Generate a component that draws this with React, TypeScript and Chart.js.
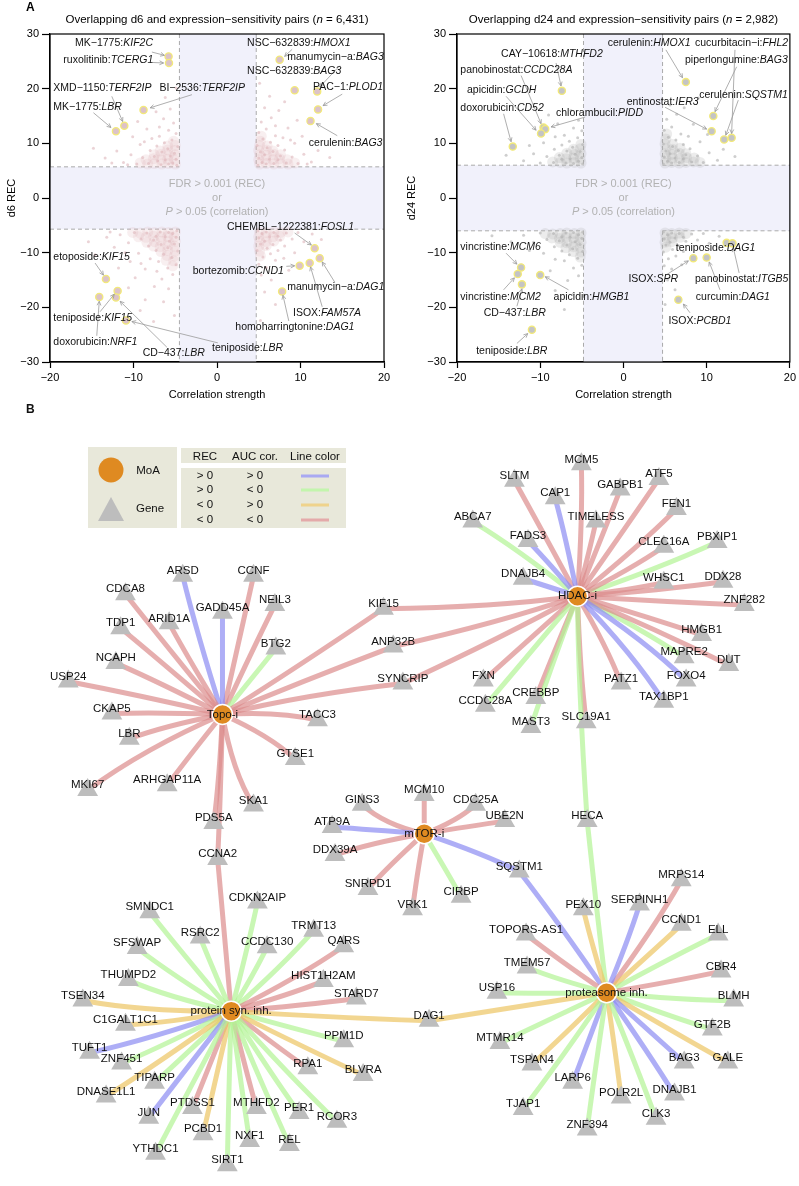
import React, { useEffect, useRef } from "react";
import { Chart, registerables } from "chart.js";
Chart.register(...registerables);

const FONT = "'Liberation Sans', Arial, Helvetica, sans-serif";
const MINUS = "\u2212";

// ---------------- Panel A: d6 ----------------
const d6Drug = ["MK\u22121775", "ruxolitinib", "XMD\u22121150", "BI\u22122536", "MK\u22121775", "NSC\u2212632839", "manumycin\u2212a", "NSC\u2212632839", "PAC\u22121", "cerulenin",
  "CHEMBL\u22121222381", "bortezomib", "manumycin\u2212a", "ISOX", "homoharringtonine", "etoposide", "teniposide", "doxorubicin", "CD\u2212437", "teniposide"];
const d6Gene = ["KIF2C", "TCERG1", "TERF2IP", "TERF2IP", "LBR", "HMOX1", "BAG3", "BAG3", "PLOD1", "BAG3",
  "FOSL1", "CCND1", "DAG1", "FAM57A", "DAG1", "KIF15", "KIF15", "NRF1", "LBR", "LBR"];
const d6X = [-5.8, -5.75, -11.1, -8.8, -12.1, 7.5, 12.0, 9.3, 12.1, 11.2, 11.7, 9.9, 12.3, 11.1, 7.8, -13.3, -11.9, -14.1, -12.1, -10.9];
const d6Y = [25.9, 24.7, 13.2, 16.1, 12.2, 25.3, 19.5, 19.7, 16.2, 14.1, -9.2, -12.4, -11.0, -11.9, -17.1, -14.8, -17.0, -18.1, -18.2, -22.4];

const d6Cloud: [number, number][] = [
  [-4.8,6.0],[-5.3,6.4],[-4.9,7.1],[-5.8,6.2],[-6.2,7.0],[-5.1,8.2],[-5.6,7.7],[-6.7,6.1],[-7.1,6.8],[-4.7,9.4],[-5.9,9.0],[-6.6,8.4],[-7.5,7.6],[-8.2,6.3],[-5.4,10.6],[-6.3,10.1],[-7.2,9.5],[-8.0,8.7],[-8.9,7.4],[-9.6,6.2],[-4.9,11.8],[-5.8,12.4],[-6.9,11.3],[-7.8,10.9],[-9.2,9.8],[-10.3,7.9],[-11.2,6.5],[-5.2,13.7],[-6.4,14.5],[-8.4,12.6],[-10.1,11.2],[-12.0,8.6],[-5.6,16.3],[-7.3,15.8],[-9.5,14.0],[-13.4,7.3],[-6.2,18.4],[-11.0,13.5],[-4.9,20.1],[-14.8,9.1],[-10.7,6.1],[-12.6,6.4],[-8.7,10.3],[-6.9,13.0],
  [4.9,6.0],[5.4,6.5],[5.0,7.3],[5.9,6.2],[6.3,7.1],[5.2,8.4],[5.7,7.9],[6.8,6.3],[7.3,7.0],[4.8,9.6],[6.0,9.2],[6.7,8.5],[7.6,7.7],[8.3,6.4],[5.5,10.8],[6.4,10.2],[7.3,9.6],[8.1,8.8],[9.0,7.5],[9.7,6.3],[5.0,12.0],[5.9,12.6],[7.0,11.4],[7.9,11.0],[9.3,10.0],[10.4,8.0],[11.3,6.6],[5.3,13.9],[6.5,14.7],[8.5,12.8],[10.2,11.3],[12.1,8.7],[5.7,16.5],[7.4,16.0],[9.6,14.2],[13.5,7.4],[6.3,18.6],[8.1,17.6],[5.1,21.0],[11.0,13.8],[10.8,6.2],[8.8,10.6],[7.0,13.2],
  [-4.8,-6.0],[-5.3,-6.5],[-4.9,-7.2],[-5.8,-6.3],[-6.2,-7.1],[-5.1,-8.4],[-5.7,-7.9],[-6.8,-6.2],[-7.3,-7.0],[-4.7,-9.7],[-5.9,-9.1],[-6.7,-8.5],[-7.6,-7.7],[-8.4,-6.4],[-5.4,-10.9],[-6.4,-10.3],[-7.3,-9.6],[-8.2,-8.8],[-9.1,-7.5],[-9.9,-6.3],[-4.9,-12.2],[-5.9,-12.8],[-7.0,-11.6],[-8.0,-11.1],[-9.4,-10.1],[-10.6,-8.2],[-11.6,-6.7],[-5.3,-14.0],[-6.6,-14.8],[-8.6,-13.0],[-10.4,-11.6],[-12.3,-9.0],[-13.2,-7.2],[-5.8,-16.6],[-7.5,-16.2],[-9.8,-14.6],[-11.8,-12.8],[-6.4,-19.0],[-8.6,-18.6],[-10.6,-16.4],[-14.6,-10.4],[-5.1,-21.5],[-7.6,-22.6],[-9.2,-20.6],[-11.0,-10.0],[-12.8,-6.2],[-7.2,-13.4],[-9.1,-12.0],[-15.4,-8.0],
  [4.9,-6.0],[5.4,-6.5],[5.0,-7.3],[5.9,-6.2],[6.3,-7.1],[5.2,-8.4],[5.7,-7.9],[6.8,-6.3],[7.3,-7.0],[4.8,-9.6],[6.0,-9.2],[6.7,-8.5],[7.6,-7.7],[8.3,-6.4],[5.5,-10.8],[6.4,-10.2],[7.3,-9.6],[8.1,-8.8],[9.0,-7.5],[9.7,-6.3],[5.0,-12.1],[5.9,-12.7],[7.0,-11.4],[8.0,-11.0],[9.3,-10.0],[10.4,-8.0],[11.4,-6.6],[5.3,-14.1],[6.5,-15.0],[8.6,-13.2],[12.5,-7.6],[5.7,-17.2],[7.0,-19.5],[5.2,-22.4],
];
const d6Core: [number, number][] = [
  [-5.0,6.2],[-5.8,6.3],[-6.6,6.2],[-7.5,6.3],[-8.3,6.2],[-9.2,6.4],[-5.1,7.0],[-5.9,7.1],[-6.7,7.0],[-7.6,7.2],[-8.5,7.0],[-5.0,7.9],[-5.8,7.8],[-6.7,8.0],[-7.5,7.9],[-5.1,8.7],[-5.9,8.8],[-6.8,8.6],[-5.0,9.6],[-5.9,9.5],[-5.2,10.4],
  [5.1,6.2],[5.9,6.3],[6.8,6.2],[7.6,6.3],[8.5,6.2],[9.3,6.4],[5.0,7.0],[5.8,7.1],[6.7,7.0],[7.5,7.2],[8.4,7.0],[5.1,7.9],[5.9,7.8],[6.8,8.0],[7.6,7.9],[5.0,8.7],[5.9,8.8],[6.7,8.6],[5.1,9.6],[6.0,9.5],[5.2,10.4],[5.3,11.3],
  [-5.0,-6.2],[-5.8,-6.3],[-6.6,-6.2],[-7.5,-6.3],[-8.3,-6.2],[-9.2,-6.4],[-10.1,-6.3],[-5.1,-7.1],[-5.9,-7.0],[-6.7,-7.1],[-7.6,-7.0],[-8.5,-7.2],[-9.4,-7.1],[-5.0,-7.9],[-5.8,-8.0],[-6.7,-7.9],[-7.5,-8.0],[-8.4,-8.1],[-5.1,-8.8],[-5.9,-8.7],[-6.8,-8.9],[-7.6,-8.8],[-5.0,-9.7],[-5.9,-9.6],[-6.7,-9.8],[-5.1,-10.6],[-6.0,-10.5],[-5.2,-11.5],[-6.1,-11.4],[-5.3,-12.4],
  [5.1,-6.2],[5.9,-6.3],[6.8,-6.2],[7.6,-6.3],[8.5,-6.2],[5.0,-7.1],[5.8,-7.0],[6.7,-7.1],[7.5,-7.0],[5.1,-7.9],[5.9,-8.0],[6.8,-7.9],[5.0,-8.8],[5.9,-8.7],[5.1,-9.7],[5.2,-10.6],
];

// ---------------- Panel A: d24 ----------------
const d24Drug = ["cerulenin", "cucurbitacin\u2212i", "piperlongumine", "entinostat", "cerulenin", "CAY\u221210618", "panobinostat", "chlorambucil", "apicidin", "doxorubicin",
  "vincristine", "vincristine", "CD\u2212437", "apicidin", "teniposide", "teniposide", "ISOX", "panobinostat", "curcumin", "ISOX"];
const d24Gene = ["HMOX1", "FHL2", "BAG3", "IER3", "SQSTM1", "MTHFD2", "CCDC28A", "PIDD", "GCDH", "CD52",
  "MCM6", "MCM2", "LBR", "HMGB1", "LBR", "DAG1", "SPR", "ITGB5", "DAG1", "PCBD1"];
const d24X = [7.5, 13.0, 10.8, 10.6, 12.1, -7.4, -9.6, -9.4, -9.9, -13.3, -12.3, -12.7, -12.2, -10.0, -11.0, 12.4, 8.4, 13.1, 10.0, 6.6];
const d24Y = [21.2, 11.0, 15.0, 12.2, 10.7, 19.6, 12.9, 12.6, 11.8, 9.4, -12.7, -13.9, -15.8, -14.1, -24.1, -8.2, -11.0, -8.3, -10.9, -18.6];

const d24Cloud: [number, number][] = [
  [-4.9,6.2],[-5.4,6.7],[-5.0,7.4],[-6.0,6.3],[-6.4,7.2],[-5.2,8.5],[-5.8,8.0],[-6.9,6.4],[-7.4,7.1],[-4.9,9.8],[-6.1,9.3],[-6.8,8.6],[-7.7,7.8],[-8.4,6.5],[-5.5,11.0],[-6.5,10.4],[-7.4,9.7],[-8.3,8.9],[-9.2,7.6],[-10.0,6.4],[-5.0,12.3],[-6.0,12.8],[-7.1,11.5],[-8.2,11.2],[-9.6,10.1],[-10.8,8.1],[-12.0,6.8],[-5.4,14.2],[-7.9,13.6],[-11.3,9.6],[-14.1,7.8],[-6.3,16.0],[-9.0,15.2],
  [4.8,6.2],[5.3,6.7],[4.9,7.5],[5.8,6.4],[6.2,7.3],[5.1,8.6],[5.6,8.1],[6.7,6.5],[7.2,7.2],[4.8,9.9],[5.9,9.4],[6.6,8.7],[7.5,7.9],[8.2,6.6],[5.4,11.1],[6.3,10.6],[7.2,9.8],[8.0,9.0],[8.9,7.7],[9.6,6.5],[4.9,12.4],[5.8,13.0],[6.9,11.7],[7.8,11.3],[9.2,10.3],[10.3,8.3],[11.3,6.9],[5.2,14.4],[6.4,15.3],[8.4,13.5],[10.1,11.6],[12.0,8.9],[5.6,17.0],[7.3,16.5],[13.4,7.6],[9.0,18.3],
  [-4.9,-6.2],[-5.4,-6.7],[-5.0,-7.4],[-6.0,-6.3],[-6.4,-7.2],[-5.2,-8.5],[-5.8,-8.0],[-6.9,-6.4],[-7.4,-7.1],[-4.9,-9.8],[-6.1,-9.3],[-6.8,-8.6],[-7.7,-7.8],[-8.4,-6.5],[-5.5,-11.0],[-6.5,-10.4],[-7.4,-9.7],[-8.3,-8.9],[-9.2,-7.6],[-10.0,-6.4],[-5.0,-12.3],[-6.0,-12.8],[-7.1,-11.5],[-8.2,-11.2],[-9.6,-10.1],[-10.8,-8.1],[-12.0,-6.8],[-5.4,-14.2],[-6.7,-15.1],[-8.8,-13.3],[-11.3,-9.6],[-13.5,-8.0],[-15.8,-6.9],[-6.0,-17.5],[-8.2,-16.9],[-7.1,-20.4],
  [4.8,-6.2],[5.3,-6.7],[4.9,-7.5],[5.8,-6.4],[6.2,-7.3],[5.1,-8.6],[5.6,-8.1],[6.7,-6.5],[7.2,-7.2],[4.8,-9.9],[5.9,-9.4],[6.6,-8.7],[7.5,-7.9],[8.2,-6.6],[5.4,-11.1],[6.3,-10.6],[7.2,-9.8],[8.9,-7.7],[9.6,-6.5],[4.9,-12.4],[5.8,-13.0],[7.0,-12.2],[10.3,-8.3],[11.5,-7.0],[5.3,-15.0],[6.2,-16.8],[5.0,-19.5],
];
const d24Core: [number, number][] = [
  [-5.1,6.4],[-5.9,6.5],[-6.8,6.4],[-7.6,6.5],[-8.5,6.6],[-5.2,7.2],[-6.0,7.3],[-6.9,7.2],[-7.7,7.4],[-5.1,8.1],[-5.9,8.0],[-6.8,8.2],[-5.2,9.0],[-6.0,8.9],[-5.1,9.8],
  [5.0,6.4],[5.8,6.5],[6.7,6.4],[7.5,6.5],[8.4,6.6],[9.2,6.5],[5.1,7.2],[5.9,7.3],[6.8,7.2],[7.6,7.4],[8.5,7.3],[5.0,8.1],[5.8,8.0],[6.7,8.2],[7.5,8.1],[5.1,9.0],[5.9,8.9],[6.8,9.1],[5.0,9.9],[5.9,9.8],[5.1,10.8],[5.2,11.7],
  [-5.1,-6.4],[-5.9,-6.5],[-6.8,-6.4],[-7.6,-6.5],[-8.5,-6.6],[-9.4,-6.5],[-5.2,-7.2],[-6.0,-7.3],[-6.9,-7.2],[-7.7,-7.4],[-8.6,-7.3],[-5.1,-8.1],[-5.9,-8.0],[-6.8,-8.2],[-7.6,-8.1],[-5.2,-9.0],[-6.0,-8.9],[-6.9,-9.1],[-5.1,-9.9],[-6.0,-9.8],[-5.2,-10.8],
  [5.0,-6.4],[5.8,-6.5],[6.7,-6.4],[7.5,-6.5],[5.1,-7.2],[5.9,-7.3],[6.8,-7.2],[5.0,-8.1],[5.8,-8.0],[5.1,-9.0],
];

// ---------------- Panel B: network ----------------
const hubNames = ["Topo-i", "HDAC-i", "mTOR-i", "protein syn. inh.", "proteasome inh."];
const hubX = [217, 583, 425, 226, 613];
const hubY = [712, 590, 835, 1018, 999];

const geneNames = [
  "ARSD","CCNF","CDCA8","NEIL3","GADD45A","ARID1A","TDP1","BTG2","NCAPH","USP24","CKAP5","LBR","TACC3","GTSE1","MKI67","ARHGAP11A","PDS5A","SKA1","KIF15","ANP32B","SYNCRIP","CCNA2",
  "MCM5","SLTM","ATF5","GABPB1","CAP1","FEN1","TIMELESS","ABCA7","FADS3","PBXIP1","CLEC16A","DNAJB4","WHSC1","DDX28","ZNF282","HMGB1","MAPRE2","DUT","FOXO4","FXN","PATZ1","CREBBP","TAX1BP1","CCDC28A","MAST3","SLC19A1","HECA",
  "MCM10","GINS3","CDC25A","ATP9A","UBE2N","DDX39A","SNRPD1","VRK1","CIRBP","SQSTM1",
  "CDKN2AIP","SMNDC1","TRMT13","RSRC2","QARS","SFSWAP","CCDC130","THUMPD2","HIST1H2AM","TSEN34","STARD7","C1GALT1C1","PPM1D","TUFT1","ZNF451","RPA1","BLVRA","TIPARP","DNASE1L1","PTDSS1","MTHFD2","PER1","RCOR3","JUN","PCBD1","NXF1","REL","YTHDC1","SIRT1","DAG1",
  "MRPS14","SERPINH1","PEX10","CCND1","ELL","TOPORS-AS1","TMEM57","CBR4","USP16","BLMH","GTF2B","MTMR14","GALE","BAG3","TSPAN4","LARP6","DNAJB1","POLR2L","TJAP1","CLK3","ZNF394",
];
const geneX = [
  176,249,117,271,217,162,112,272,107,58,103,121,315,292,78,160,208,249,383,393,403,212,
  587,518,667,627,560,685,602,475,532,727,672,527,672,733,755,711,693,739,695,486,628,540,672,488,535,592,593,
  425,361,478,330,508,333,367,413,463,523,
  253,142,311,194,342,129,263,120,321,73,355,117,342,80,113,305,362,147,97,186,252,296,335,141,197,245,286,148,222,430,
  690,647,589,690,728,530,531,731,500,744,722,503,738,693,536,578,683,628,527,664,593,
];
const geneY = [
  569,569,588,599,607,618,623,644,659,678,711,737,718,758,790,785,824,806,603,642,680,861,
  454,471,469,480,489,500,513,513,533,534,539,572,576,575,599,630,653,661,677,677,680,695,699,703,725,720,822,
  795,805,805,828,822,857,892,913,900,874,
  906,916,935,942,951,953,952,986,987,1007,1005,1032,1049,1061,1072,1077,1084,1092,1106,1118,1118,1123,1132,1128,1145,1152,1156,1165,1177,1028,
  883,908,913,929,939,939,973,977,999,1007,1037,1051,1071,1071,1073,1092,1104,1107,1119,1129,1140,
];

// edge sign code: p = REC>0 & AUC>0, g = REC>0 & AUC<0, y = REC<0 & AUC>0, r = REC<0 & AUC<0
const edges: [string, string, string][] = [
  ["Topo-i","ARSD","p"],["Topo-i","CCNF","r"],["Topo-i","CDCA8","r"],["Topo-i","NEIL3","r"],["Topo-i","GADD45A","p"],["Topo-i","ARID1A","r"],["Topo-i","TDP1","r"],["Topo-i","BTG2","g"],["Topo-i","NCAPH","r"],["Topo-i","USP24","r"],["Topo-i","CKAP5","r"],["Topo-i","LBR","r"],["Topo-i","TACC3","r"],["Topo-i","GTSE1","r"],["Topo-i","MKI67","r"],["Topo-i","ARHGAP11A","r"],["Topo-i","PDS5A","r"],["Topo-i","SKA1","r"],["Topo-i","KIF15","r"],["Topo-i","ANP32B","r"],["Topo-i","SYNCRIP","r"],["Topo-i","CCNA2","r"],
  ["HDAC-i","KIF15","r"],["HDAC-i","ANP32B","r"],["HDAC-i","SYNCRIP","r"],
  ["HDAC-i","MCM5","r"],["HDAC-i","SLTM","r"],["HDAC-i","ATF5","r"],["HDAC-i","GABPB1","r"],["HDAC-i","CAP1","p"],["HDAC-i","FEN1","r"],["HDAC-i","TIMELESS","r"],["HDAC-i","ABCA7","g"],["HDAC-i","FADS3","p"],["HDAC-i","PBXIP1","g"],["HDAC-i","CLEC16A","r"],["HDAC-i","DNAJB4","p"],["HDAC-i","WHSC1","r"],["HDAC-i","DDX28","r"],["HDAC-i","ZNF282","r"],["HDAC-i","HMGB1","r"],["HDAC-i","MAPRE2","g"],["HDAC-i","DUT","r"],["HDAC-i","FOXO4","p"],["HDAC-i","FXN","r"],["HDAC-i","PATZ1","r"],["HDAC-i","CREBBP","r"],["HDAC-i","TAX1BP1","p"],["HDAC-i","CCDC28A","g"],["HDAC-i","MAST3","g"],["HDAC-i","SLC19A1","r"],["HDAC-i","HECA","g"],
  ["mTOR-i","MCM10","r"],["mTOR-i","GINS3","r"],["mTOR-i","CDC25A","r"],["mTOR-i","ATP9A","p"],["mTOR-i","UBE2N","r"],["mTOR-i","DDX39A","r"],["mTOR-i","SNRPD1","r"],["mTOR-i","VRK1","r"],["mTOR-i","CIRBP","g"],["mTOR-i","SQSTM1","p"],
  ["protein syn. inh.","CCNA2","r"],["protein syn. inh.","CDKN2AIP","g"],["protein syn. inh.","SMNDC1","g"],["protein syn. inh.","TRMT13","g"],["protein syn. inh.","RSRC2","g"],["protein syn. inh.","QARS","r"],["protein syn. inh.","SFSWAP","g"],["protein syn. inh.","CCDC130","g"],["protein syn. inh.","THUMPD2","g"],["protein syn. inh.","HIST1H2AM","r"],["protein syn. inh.","TSEN34","y"],["protein syn. inh.","STARD7","r"],["protein syn. inh.","C1GALT1C1","y"],["protein syn. inh.","PPM1D","g"],["protein syn. inh.","TUFT1","p"],["protein syn. inh.","ZNF451","g"],["protein syn. inh.","RPA1","r"],["protein syn. inh.","BLVRA","y"],["protein syn. inh.","TIPARP","g"],["protein syn. inh.","DNASE1L1","y"],["protein syn. inh.","PTDSS1","r"],["protein syn. inh.","MTHFD2","r"],["protein syn. inh.","PER1","g"],["protein syn. inh.","RCOR3","g"],["protein syn. inh.","JUN","p"],["protein syn. inh.","PCBD1","y"],["protein syn. inh.","NXF1","g"],["protein syn. inh.","REL","g"],["protein syn. inh.","YTHDC1","g"],["protein syn. inh.","SIRT1","g"],["protein syn. inh.","DAG1","y"],
  ["proteasome inh.","DAG1","y"],["proteasome inh.","HECA","g"],["proteasome inh.","SQSTM1","p"],["proteasome inh.","MRPS14","r"],["proteasome inh.","SERPINH1","p"],["proteasome inh.","PEX10","y"],["proteasome inh.","CCND1","y"],["proteasome inh.","ELL","g"],["proteasome inh.","TOPORS-AS1","r"],["proteasome inh.","TMEM57","g"],["proteasome inh.","CBR4","r"],["proteasome inh.","USP16","g"],["proteasome inh.","BLMH","g"],["proteasome inh.","GTF2B","g"],["proteasome inh.","MTMR14","g"],["proteasome inh.","GALE","y"],["proteasome inh.","BAG3","p"],["proteasome inh.","TSPAN4","y"],["proteasome inh.","LARP6","p"],["proteasome inh.","DNAJB1","p"],["proteasome inh.","POLR2L","y"],["proteasome inh.","TJAP1","g"],["proteasome inh.","CLK3","g"],["proteasome inh.","ZNF394","g"],
];

const legendRows = [["> 0", "> 0", "p"], ["> 0", "< 0", "g"], ["< 0", "> 0", "y"], ["< 0", "< 0", "r"]];

// ---------------- styles / layout (not data) ----------------
const EDGE_RGBA: Record<string, string> = {
  p: "rgba(140,140,242,0.7)", g: "rgba(178,244,148,0.7)", y: "rgba(236,196,98,0.7)", r: "rgba(220,140,140,0.7)",
};
const SWATCH: Record<string, string> = { p: "#a9a9f2", g: "#c3f5ad", y: "#efd38c", r: "#e4aaaa" };

type Ann = { lx: number; ly: number; a: number[][] };
const d6Ann: Ann[] = [
  { lx: -17.0, ly: 28.35, a: [[-7.8, 26.7, -6.3, 26.1]] },
  { lx: -18.4, ly: 25.2, a: [[-7.8, 24.8, -6.4, 24.7]] },
  { lx: -19.6, ly: 20.1, a: [[-12.6, 18.6, -11.3, 14.0]] },
  { lx: -6.9, ly: 20.1, a: [[-3.0, 18.9, -8.0, 16.5]] },
  { lx: -19.6, ly: 16.6, a: [[-14.8, 15.6, -12.7, 12.9]] },
  { lx: 3.6, ly: 28.35, a: [[9.0, 27.2, 8.1, 25.9]] },
  { lx: 8.4, ly: 25.8, a: [[14.7, 24.2, 12.3, 20.3]] },
  { lx: 3.6, ly: 23.2, a: [] },
  { lx: 11.5, ly: 20.3, a: [[15.0, 19.0, 12.7, 16.9]] },
  { lx: 11.0, ly: 10.1, a: [[14.4, 11.4, 11.9, 13.6]] },
  { lx: 1.2, ly: -5.3, a: [[9.3, -6.4, 11.3, -8.6]] },
  { lx: -2.9, ly: -13.4, a: [[8.3, -12.5, 9.3, -12.4]] },
  { lx: 8.4, ly: -16.3, a: [[14.1, -15.4, 12.6, -11.7]] },
  { lx: 9.1, ly: -21.0, a: [[12.6, -19.9, 11.2, -12.6]] },
  { lx: 2.2, ly: -23.6, a: [[8.6, -22.5, 7.9, -17.8]] },
  { lx: -19.6, ly: -10.8, a: [[-14.6, -11.9, -13.6, -14.1]] },
  { lx: -19.6, ly: -21.9, a: [[-14.0, -20.8, -12.3, -17.6]] },
  { lx: -19.6, ly: -26.3, a: [[-14.4, -25.2, -14.1, -18.9]] },
  { lx: -8.9, ly: -28.4, a: [[-6.0, -27.3, -11.6, -18.9]] },
  { lx: -0.6, ly: -27.4, a: [[0.1, -26.5, -10.2, -22.6]] },
];
const d24Ann: Ann[] = [
  { lx: -1.9, ly: 28.35, a: [[5.1, 27.1, 7.1, 22.0]] },
  { lx: 8.6, ly: 28.35, a: [[13.4, 27.1, 13.0, 11.8]] },
  { lx: 7.4, ly: 25.2, a: [[13.6, 24.0, 11.0, 15.8]] },
  { lx: 0.4, ly: 17.6, a: [[5.0, 16.6, 10.0, 12.6]] },
  { lx: 9.1, ly: 18.8, a: [[13.8, 17.9, 12.3, 11.5]] },
  { lx: -14.7, ly: 26.3, a: [[-8.1, 24.7, -7.5, 20.5]] },
  { lx: -19.6, ly: 23.4, a: [[-12.3, 22.4, -9.9, 13.6]] },
  { lx: -8.1, ly: 15.5, a: [[-4.6, 14.8, -8.7, 13.0]] },
  { lx: -18.8, ly: 19.8, a: [[-14.1, 18.6, -10.5, 12.4]] },
  { lx: -19.6, ly: 16.5, a: [[-14.4, 15.4, -13.5, 10.3]] },
  { lx: -19.6, ly: -9.0, a: [[-14.1, -10.1, -12.8, -12.1]] },
  { lx: -19.6, ly: -18.1, a: [[-14.4, -16.8, -13.1, -14.6]] },
  { lx: -16.8, ly: -21.0, a: [[-12.8, -19.8, -12.2, -16.6]] },
  { lx: -8.4, ly: -18.1, a: [[-6.6, -16.8, -9.4, -14.4]] },
  { lx: -17.7, ly: -28.0, a: [[-12.8, -26.6, -11.5, -24.8]] },
  { lx: 6.3, ly: -9.1, a: [] },
  { lx: 0.6, ly: -14.8, a: [[5.1, -14.1, 7.8, -11.5]] },
  { lx: 8.6, ly: -14.8, a: [[13.9, -13.7, 13.2, -9.1]] },
  { lx: 8.7, ly: -18.1, a: [[11.6, -16.8, 10.3, -11.7]] },
  { lx: 5.4, ly: -22.5, a: [[8.0, -21.0, 7.2, -19.4]] },
];

type Part = { t: string; it?: boolean };
function drawRich(ctx: CanvasRenderingContext2D, parts: Part[], x: number, y: number, size: number, align: "left" | "center") {
  const fonts = parts.map((p) => `${p.it ? "italic " : ""}${size}px ${FONT}`);
  let total = 0;
  const widths = parts.map((p, i) => {
    ctx.font = fonts[i];
    const w = ctx.measureText(p.t).width;
    total += w;
    return w;
  });
  let cx = align === "center" ? x - total / 2 : x;
  ctx.textAlign = "left";
  ctx.textBaseline = "middle";
  parts.forEach((p, i) => {
    ctx.font = fonts[i];
    ctx.fillText(p.t, cx, y);
    cx += widths[i];
  });
}

function drawArrow(ctx: CanvasRenderingContext2D, x1: number, y1: number, x2: number, y2: number) {
  ctx.beginPath();
  ctx.moveTo(x1, y1);
  ctx.lineTo(x2, y2);
  ctx.stroke();
  const ang = Math.atan2(y2 - y1, x2 - x1);
  const L = 4.5, a = 0.45;
  ctx.beginPath();
  ctx.moveTo(x2 - L * Math.cos(ang - a), y2 - L * Math.sin(ang - a));
  ctx.lineTo(x2, y2);
  ctx.lineTo(x2 - L * Math.cos(ang + a), y2 - L * Math.sin(ang + a));
  ctx.stroke();
}

const fmtTick = (v: any) => (Number(v) < 0 ? MINUS + Math.abs(Number(v)) : String(v));

type PanelSpec = {
  key: string; tag: string; titlePre: string; titlePost: string; yTitle: string;
  drug: string[]; gene: string[]; hx: number[]; hy: number[]; cloud: [number, number][]; core: [number, number][];
  ann: Ann[]; cloudColor: string; coreColor: string; hitFill: string; bandX: [number, number]; bandY: number; padRight: number; yWidth: number;
};

function scatterConfig(p: PanelSpec): any {
  const plugin = {
    id: "panel" + p.key,
    beforeDatasetsDraw(chart: any) {
      const { ctx, chartArea: ca, scales } = chart;
      const x = scales.x, y = scales.y;
      const xl = x.getPixelForValue(p.bandX[0]), xr = x.getPixelForValue(p.bandX[1]);
      const yt = y.getPixelForValue(p.bandY), yb = y.getPixelForValue(-p.bandY);
      ctx.save();
      ctx.fillStyle = "#f1f1fb";
      ctx.fillRect(xl, ca.top, xr - xl, ca.bottom - ca.top);
      ctx.fillRect(ca.left, yt, ca.right - ca.left, yb - yt);
      ctx.strokeStyle = "#ababab";
      ctx.lineWidth = 1;
      ctx.setLineDash([4, 3]);
      ctx.beginPath();
      [xl, xr].forEach((px) => { ctx.moveTo(px, ca.top); ctx.lineTo(px, yt); ctx.moveTo(px, yb); ctx.lineTo(px, ca.bottom); });
      [yt, yb].forEach((py) => { ctx.moveTo(ca.left, py); ctx.lineTo(xl, py); ctx.moveTo(xr, py); ctx.lineTo(ca.right, py); });
      ctx.stroke();
      ctx.setLineDash([]);
      ctx.fillStyle = "#b2b2b2";
      const cx = x.getPixelForValue(0), cy = y.getPixelForValue(0);
      drawRich(ctx, [{ t: "FDR > 0.001 (REC)" }], cx, cy - 14, 11, "center");
      drawRich(ctx, [{ t: "or" }], cx, cy, 11, "center");
      drawRich(ctx, [{ t: "P", it: true }, { t: " > 0.05 (correlation)" }], cx, cy + 13.5, 11, "center");
      ctx.restore();
    },
    afterDatasetsDraw(chart: any) {
      const { ctx, scales } = chart;
      const x = scales.x, y = scales.y;
      ctx.save();
      ctx.strokeStyle = "#9a9a9a";
      ctx.lineWidth = 0.8;
      p.ann.forEach((an) => {
        an.a.forEach((s) => drawArrow(ctx, x.getPixelForValue(s[0]), y.getPixelForValue(s[1]), x.getPixelForValue(s[2]), y.getPixelForValue(s[3])));
      });
      ctx.fillStyle = "#111";
      p.ann.forEach((an, i) => {
        drawRich(ctx, [{ t: p.drug[i] + ":" }, { t: p.gene[i], it: true }], x.getPixelForValue(an.lx), y.getPixelForValue(an.ly), 10.5, "left");
      });
      ctx.restore();
    },
    afterDraw(chart: any) {
      const { ctx, chartArea: ca } = chart;
      ctx.save();
      ctx.strokeStyle = "#000";
      ctx.lineWidth = 1.2;
      ctx.strokeRect(ca.left, ca.top, ca.right - ca.left, ca.bottom - ca.top);
      ctx.fillStyle = "#000";
      drawRich(ctx, [{ t: p.titlePre }, { t: "n", it: true }, { t: p.titlePost }], (ca.left + ca.right) / 2, 20, 11.5, "center");
      if (p.tag) {
        ctx.font = `bold 12px ${FONT}`;
        ctx.textAlign = "left";
        ctx.textBaseline = "middle";
        ctx.fillText(p.tag, 26, 8);
      }
      ctx.restore();
    },
  };
  const tickFont = { family: FONT, size: 11 };
  return {
    type: "scatter",
    data: {
      datasets: [
        { data: p.core.map(([a, b]) => ({ x: a, y: b })), pointRadius: 5.5, backgroundColor: p.coreColor, borderWidth: 0 },
        { data: p.cloud.map(([a, b]) => ({ x: a, y: b })), pointRadius: 1.5, backgroundColor: p.cloudColor, borderWidth: 0 },
        { data: p.hx.map((v, i) => ({ x: v, y: p.hy[i] })), pointRadius: 3.6, backgroundColor: p.hitFill, borderColor: "#f3ea78", borderWidth: 1.3 },
      ],
    },
    options: {
      animation: false,
      responsive: false,
      devicePixelRatio: 1,
      events: [],
      layout: { padding: { top: 34, right: p.padRight, left: 0, bottom: 0 } },
      plugins: { legend: { display: false }, tooltip: { enabled: false }, title: { display: false } },
      scales: {
        x: {
          type: "linear", min: -20, max: 20,
          ticks: { stepSize: 10, callback: fmtTick, font: tickFont, color: "#000", padding: 3, maxRotation: 0 },
          grid: { display: true, drawOnChartArea: false, drawTicks: true, tickLength: 6, color: "#000", tickWidth: 1.2 },
          border: { display: true, color: "#000", width: 1.2 },
          title: { display: true, text: "Correlation strength", font: tickFont, color: "#000", padding: { top: 0, bottom: 8.5 } },
          afterFit: (s: any) => { s.height = 48; },
        },
        y: {
          type: "linear", min: -30, max: 30,
          ticks: { stepSize: 10, callback: fmtTick, font: tickFont, color: "#000", padding: 3 },
          grid: { display: true, drawOnChartArea: false, drawTicks: true, tickLength: 8, color: "#000", tickWidth: 1.2 },
          border: { display: true, color: "#000", width: 1.2 },
          title: { display: true, text: p.yTitle, font: tickFont, color: "#000", padding: { top: 5.5, bottom: 0 } },
          afterFit: (s: any) => { s.width = p.yWidth; },
        },
      },
    },
    plugins: [plugin],
  };
}

function networkConfig(): any {
  const gi = (n: string) => geneNames.indexOf(n);
  const hi = (n: string) => hubNames.indexOf(n);
  const plugin = {
    id: "network",
    beforeDatasetsDraw(chart: any) {
      const { ctx, scales } = chart;
      const x = scales.x, y = scales.y;
      const geo = edges.map(([h, g, c]) => {
        const a = hi(h), b = gi(g);
        const hx = x.getPixelForValue(hubX[a]), hy = y.getPixelForValue(hubY[a]);
        const gx = x.getPixelForValue(geneX[b]), gy = y.getPixelForValue(geneY[b]);
        const len = Math.hypot(gx - hx, gy - hy);
        return { h, c, hx, hy, gx, gy, len, ux: (gx - hx) / len, uy: (gy - hy) / len };
      });
      // angular edge bundling around each hub
      const cosLim = Math.cos((50 * Math.PI) / 180);
      ctx.save();
      ctx.lineWidth = 5;
      ctx.lineCap = "round";
      geo.forEach((e) => {
        let sx = 0, sy = 0;
        geo.forEach((f) => {
          if (f.h !== e.h) return;
          const d = e.ux * f.ux + e.uy * f.uy;
          if (d < cosLim) return;
          const w = Math.pow((d - cosLim) / (1 - cosLim), 1.5);
          sx += f.ux * w;
          sy += f.uy * w;
        });
        const n = Math.hypot(sx, sy) || 1;
        const k = Math.min(e.len * 0.6, 85);
        const cx = e.hx + (sx / n) * k, cy = e.hy + (sy / n) * k;
        ctx.strokeStyle = EDGE_RGBA[e.c];
        ctx.beginPath();
        ctx.moveTo(e.hx, e.hy);
        ctx.quadraticCurveTo(cx, cy, e.gx, e.gy);
        ctx.stroke();
      });
      ctx.restore();
    },
    afterDatasetsDraw(chart: any) {
      const { ctx, scales } = chart;
      const x = scales.x, y = scales.y;
      ctx.save();
      ctx.fillStyle = "#111";
      geneNames.forEach((n, i) => {
        drawRich(ctx, [{ t: n }], x.getPixelForValue(geneX[i]), y.getPixelForValue(geneY[i]) - 5, 11.5, "center");
      });
      hubNames.forEach((n, i) => {
        drawRich(ctx, [{ t: n }], x.getPixelForValue(hubX[i]), y.getPixelForValue(hubY[i]), 11.5, "center");
      });
      ctx.font = `bold 12px ${FONT}`;
      ctx.textAlign = "left";
      ctx.textBaseline = "middle";
      ctx.fillText("B", 26, 10);
      // legend
      const oy = 400;
      ctx.fillStyle = "#e8e8da";
      ctx.fillRect(88, 447 - oy, 89, 81);
      ctx.fillRect(181, 448 - oy, 165, 15);
      ctx.fillRect(181, 468 - oy, 165, 60);
      ctx.fillStyle = "#df8a21";
      ctx.beginPath();
      ctx.arc(111, 470 - oy, 12.5, 0, Math.PI * 2);
      ctx.fill();
      ctx.fillStyle = "#bdbdbd";
      ctx.beginPath();
      ctx.moveTo(111, 497 - oy);
      ctx.lineTo(124, 521 - oy);
      ctx.lineTo(98, 521 - oy);
      ctx.closePath();
      ctx.fill();
      ctx.fillStyle = "#111";
      drawRich(ctx, [{ t: "MoA" }], 148, 471 - oy, 11.5, "center");
      drawRich(ctx, [{ t: "Gene" }], 150, 509 - oy, 11.5, "center");
      drawRich(ctx, [{ t: "REC" }], 205, 457 - oy, 11.5, "center");
      drawRich(ctx, [{ t: "AUC cor." }], 255, 457 - oy, 11.5, "center");
      drawRich(ctx, [{ t: "Line color" }], 315, 457 - oy, 11.5, "center");
      const rowY = [476, 490, 505, 520];
      legendRows.forEach((r, i) => {
        ctx.fillStyle = "#111";
        drawRich(ctx, [{ t: r[0] }], 205, rowY[i] - oy, 11.5, "center");
        drawRich(ctx, [{ t: r[1] }], 255, rowY[i] - oy, 11.5, "center");
        ctx.strokeStyle = SWATCH[r[2]];
        ctx.lineWidth = 3;
        ctx.beginPath();
        ctx.moveTo(301, rowY[i] - oy);
        ctx.lineTo(329, rowY[i] - oy);
        ctx.stroke();
      });
      ctx.restore();
    },
  };
  return {
    type: "scatter",
    data: {
      datasets: [
        { data: geneNames.map((n, i) => ({ x: geneX[i], y: geneY[i] })), pointStyle: "triangle", pointRadius: 12, backgroundColor: "#bdbdbd", borderWidth: 0, clip: false },
        { data: hubNames.map((n, i) => ({ x: hubX[i], y: hubY[i] })), pointStyle: "circle", pointRadius: 10, backgroundColor: "#df8a21", borderColor: "#ffffff", borderWidth: 1.5, clip: false },
      ],
    },
    options: {
      animation: false,
      responsive: false,
      devicePixelRatio: 1,
      events: [],
      layout: { padding: 0 },
      plugins: { legend: { display: false }, tooltip: { enabled: false } },
      scales: {
        x: { type: "linear", min: 0, max: 799, display: false },
        y: { type: "linear", min: 400, max: 1186, reverse: true, display: false },
      },
    },
    plugins: [plugin],
  };
}

const panelD6: PanelSpec = {
  key: "d6", tag: "A", titlePre: "Overlapping d6 and expression\u2212sensitivity pairs (", titlePost: " = 6,431)", yTitle: "d6 REC",
  drug: d6Drug, gene: d6Gene, hx: d6X, hy: d6Y, cloud: d6Cloud, core: d6Core, ann: d6Ann,
  cloudColor: "rgba(226,192,197,0.7)", coreColor: "rgba(222,180,186,0.22)", hitFill: "#dcc3c8",
  bandX: [-4.5, 4.7], bandY: 5.7, padRight: 16, yWidth: 50,
};
const panelD24: PanelSpec = {
  key: "d24", tag: "", titlePre: "Overlapping d24 and expression\u2212sensitivity pairs (", titlePost: " = 2,982)", yTitle: "d24 REC",
  drug: d24Drug, gene: d24Gene, hx: d24X, hy: d24Y, cloud: d24Cloud, core: d24Core, ann: d24Ann,
  cloudColor: "rgba(190,190,190,0.75)", coreColor: "rgba(175,175,175,0.24)", hitFill: "#c4c4c4",
  bandX: [-4.8, 4.7], bandY: 6.0, padRight: 8, yWidth: 57,
};

export default function App() {
  const aRef = useRef<HTMLCanvasElement>(null);
  const bRef = useRef<HTMLCanvasElement>(null);
  const nRef = useRef<HTMLCanvasElement>(null);
  useEffect(() => {
    const charts = [
      new Chart(aRef.current as HTMLCanvasElement, scatterConfig(panelD6)),
      new Chart(bRef.current as HTMLCanvasElement, scatterConfig(panelD24)),
      new Chart(nRef.current as HTMLCanvasElement, networkConfig()),
    ];
    return () => charts.forEach((c) => c.destroy());
  }, []);
  return (
    <div style={{ position: "absolute", left: 0, top: 0, width: 799, height: 1186, background: "#fff", overflow: "hidden" }}>
      <canvas ref={nRef} width={799} height={786} style={{ position: "absolute", left: 0, top: 400, width: 799, height: 786 }} />
      <canvas ref={aRef} width={400} height={410} style={{ position: "absolute", left: 0, top: 0, width: 400, height: 410 }} />
      <canvas ref={bRef} width={399} height={410} style={{ position: "absolute", left: 400, top: 0, width: 399, height: 410 }} />
    </div>
  );
}
